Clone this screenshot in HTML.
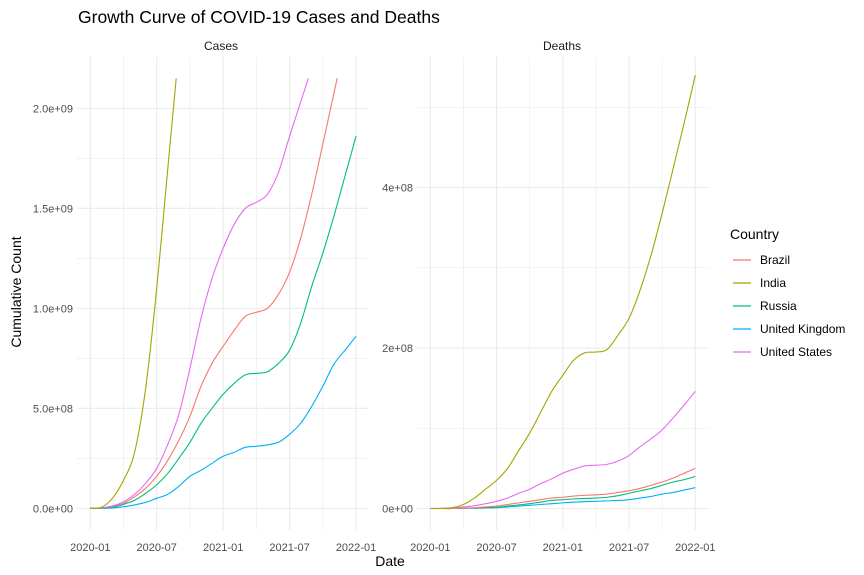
<!DOCTYPE html>
<html><head><meta charset="utf-8"><style>
body{margin:0;background:#fff;}
svg{display:block;font-family:"Liberation Sans",sans-serif;}
</style></head><body>
<svg id="chart" width="864" height="575" viewBox="0 0 864 575">
<rect width="864" height="575" fill="#fff"/>
<text x="78" y="23" font-size="17.5" fill="#000">Growth Curve of COVID-19 Cases and Deaths</text>
<g id="grid"></g>
<g id="lines"></g>
<g id="labels"></g>
<text x="221" y="50" font-size="12" text-anchor="middle" fill="#1a1a1a">Cases</text>
<text x="562" y="50" font-size="12" text-anchor="middle" fill="#1a1a1a">Deaths</text>
<text x="390" y="566" font-size="14" text-anchor="middle" fill="#000">Date</text>
<text x="0" y="0" font-size="14" text-anchor="middle" fill="#000" transform="translate(21,292) rotate(-90)">Cumulative Count</text>
<g id="legend">
<text x="730" y="239" font-size="14" fill="#000">Country</text>
</g>
</svg>
<script>
const countries = ["Brazil","India","Russia","United Kingdom","United States"];
const colors = ["#F8766D","#A3A500","#00BF7D","#00B0F6","#E76BF3"];
const xTickLabels = ["2020-01","2020-07","2021-01","2021-07","2022-01"];
const casesTicks = [0,0.5e9,1.0e9,1.5e9,2.0e9];
const casesTickLabels = ["0.0e+00","5.0e+08","1.0e+09","1.5e+09","2.0e+09"];
const deathsTicks = [0,2e8,4e8];
const deathsTickLabels = ["0e+00","2e+08","4e+08"];
// month offsets from 2020-01 (month index)
const monthIdx = [0,1,2,3,4,5,6,7,8,9,10,11,12,13,14,15,16,17,18,19,20,21,22,23,24];
// Cases (units of 1e9)
const casesBrazil = [0,0.002,0.01,0.025,0.058,0.1,0.16,0.24,0.34,0.46,0.61,0.725,0.81,0.89,0.96,0.98,1.0,1.07,1.18,1.35,1.57,1.82,2.15];
const casesBrazilMonths = [0,1,2,3,4,5,6,7,8,9,10,11,12,13,14,15,16,17,18,19,20,21,22.3];
const casesIndia = [0,0.005,0.05,0.14,0.28,0.6,1.1,1.7,2.15];
const casesIndiaMonths = [0,1,2,3,4,5,6,7,7.76];
const casesRussia = [0,0.001,0.006,0.02,0.04,0.075,0.117,0.175,0.25,0.33,0.425,0.5,0.57,0.625,0.667,0.675,0.683,0.725,0.79,0.925,1.11,1.275,1.46,1.66,1.86];
const casesUK = [0,0,0.002,0.008,0.017,0.03,0.05,0.07,0.11,0.16,0.19,0.225,0.26,0.28,0.305,0.31,0.317,0.33,0.37,0.425,0.51,0.61,0.72,0.79,0.86];
const casesUS = [0,0.002,0.012,0.033,0.07,0.125,0.2,0.32,0.47,0.7,0.95,1.15,1.3,1.42,1.5,1.53,1.57,1.68,1.86,2.15];
const casesUSMonths = [0,1,2,3,4,5,6,7,8,9,10,11,12,13,14,15,16,17,18,19.7];
// Deaths (units of 1e8)
const deathsBrazil = [0,0,0,0.005,0.01,0.02,0.03,0.05,0.07,0.09,0.11,0.13,0.14,0.155,0.165,0.17,0.18,0.2,0.22,0.25,0.29,0.33,0.38,0.44,0.5];
const deathsIndia = [0,0,0.01,0.05,0.13,0.24,0.35,0.5,0.72,0.94,1.2,1.46,1.66,1.85,1.94,1.95,1.98,2.16,2.37,2.72,3.16,3.68,4.24,4.81,5.4];
const deathsRussia = [0,0,0,0.003,0.006,0.01,0.015,0.03,0.045,0.06,0.08,0.1,0.11,0.12,0.125,0.13,0.14,0.16,0.19,0.22,0.25,0.29,0.33,0.36,0.4];
const deathsUK = [0,0,0,0.002,0.004,0.007,0.01,0.02,0.03,0.04,0.05,0.06,0.07,0.08,0.085,0.09,0.095,0.1,0.11,0.13,0.15,0.18,0.2,0.23,0.26];
const deathsUS = [0,0.002,0.008,0.02,0.035,0.06,0.09,0.13,0.19,0.24,0.31,0.37,0.44,0.49,0.53,0.54,0.55,0.59,0.66,0.77,0.87,0.98,1.13,1.29,1.46];

const NS="http://www.w3.org/2000/svg";
function mk(tag,attrs,parent){const e=document.createElementNS(NS,tag);for(const k in attrs)e.setAttribute(k,attrs[k]);parent.appendChild(e);return e;}
const panels=[
 {x0:77,x1:368,xs:v=>90.3+v*(356-90.3)/24,ys:v=>508.3-v*200/1e9,ticks:casesTicks,tl:casesTickLabels,minor:[0.25e9,0.75e9,1.25e9,1.75e9],name:"cases"},
 {x0:417,x1:708,xs:v=>430.3+v*(695.3-430.3)/24,ys:v=>508.5-v*(508.5-348)/2e8,ticks:deathsTicks,tl:deathsTickLabels,minor:[1e8,3e8,5e8],name:"deaths"}
];
const grid=document.getElementById('grid'),lines=document.getElementById('lines'),labels=document.getElementById('labels');
const yTop=57,yBot=530;
panels.forEach(p=>{
  for(let m=0;m<=24;m+=3){
    const l=mk('line',{x1:p.xs(m),x2:p.xs(m),y1:yTop,y2:yBot,stroke:'#ebebeb','stroke-width':m%6===0?1.1:0.6},grid);
    
    
  }
  p.minor.forEach(v=>{
    const l=mk('line',{x1:p.x0,x2:p.x1,y1:p.ys(v),y2:p.ys(v),stroke:'#ebebeb','stroke-width':0.6},grid);
    
    
  });
  p.ticks.forEach((v,i)=>{
    const l=mk('line',{x1:p.x0,x2:p.x1,y1:p.ys(v),y2:p.ys(v),stroke:'#ebebeb','stroke-width':1.1},grid);
    
    
    const t=mk('text',{x:p.x0-4,y:p.ys(v)+4,'font-size':11,'text-anchor':'end',fill:'#4d4d4d'},labels);
    t.textContent=p.tl[i];
    
    
  });
  xTickLabels.forEach((s,i)=>{
    const t=mk('text',{x:p.xs(i*6),y:551,'font-size':11,'text-anchor':'middle',fill:'#4d4d4d'},labels);
    t.textContent=s;
    
    
  });
});
function draw(p,months,vals,scale,color,name){
  const P=vals.map((v,i)=>[p.xs(months[i]),p.ys(v*scale)]);
  let d='M'+P[0][0].toFixed(2)+','+P[0][1].toFixed(2);
  for(let i=0;i<P.length-1;i++){
    const p0=P[Math.max(0,i-1)],p1=P[i],p2=P[i+1],p3=P[Math.min(P.length-1,i+2)];
    const c1=[p1[0]+(p2[0]-p0[0])/6,p1[1]+(p2[1]-p0[1])/6];
    const c2=[p2[0]-(p3[0]-p1[0])/6,p2[1]-(p3[1]-p1[1])/6];
    d+='C'+c1[0].toFixed(2)+','+c1[1].toFixed(2)+' '+c2[0].toFixed(2)+','+c2[1].toFixed(2)+' '+p2[0].toFixed(2)+','+p2[1].toFixed(2);
  }
  const e=mk('path',{d:d,fill:'none',stroke:color,'stroke-width':1.1,'stroke-linejoin':'round'},lines);
  
  
}
const P0=panels[0],P1=panels[1];
draw(P0,monthIdx,casesUK,1e9,colors[3],'cases-line-united-kingdom');
draw(P0,monthIdx,casesRussia,1e9,colors[2],'cases-line-russia');
draw(P0,casesBrazilMonths,casesBrazil,1e9,colors[0],'cases-line-brazil');
draw(P0,casesUSMonths,casesUS,1e9,colors[4],'cases-line-united-states');
draw(P0,casesIndiaMonths,casesIndia,1e9,colors[1],'cases-line-india');
draw(P1,monthIdx,deathsUK,1e8,colors[3],'deaths-line-united-kingdom');
draw(P1,monthIdx,deathsRussia,1e8,colors[2],'deaths-line-russia');
draw(P1,monthIdx,deathsBrazil,1e8,colors[0],'deaths-line-brazil');
draw(P1,monthIdx,deathsUS,1e8,colors[4],'deaths-line-united-states');
draw(P1,monthIdx,deathsIndia,1e8,colors[1],'deaths-line-india');
const lg=document.getElementById('legend');
countries.forEach((c,i)=>{
  const y=260+i*23;
  const l=mk('line',{x1:733,x2:751,y1:y,y2:y,stroke:colors[i],'stroke-width':1.2},lg);
  
  
  const t=mk('text',{x:760,y:y+4,'font-size':12,fill:'#000'},lg);
  t.textContent=c;
  
  
});
</script>
</body></html>
